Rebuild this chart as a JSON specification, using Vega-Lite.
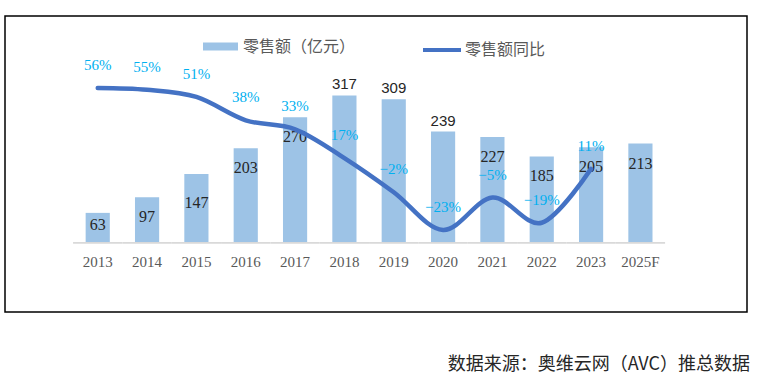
{
  "$schema": "https://vega.github.io/schema/vega-lite/v6.json",
  "width": 742,
  "height": 296,
  "padding": {"left": 5, "top": 16, "right": 12, "bottom": 5},
  "background": "#ffffff",
  "title": {
    "text": "数据来源：奥维云网（AVC）推总数据",
    "orient": "bottom",
    "anchor": "end",
    "offset": 44,
    "dx": 3,
    "font": "Noto Sans CJK SC",
    "fontSize": 18,
    "fontWeight": "normal",
    "color": "#262626"
  },
  "config": {
    "view": {"stroke": "#000000", "strokeWidth": 1.5}
  },
  "data": {
    "values": [
      {"year": "2013", "sales": 63, "yoy": 0.56},
      {"year": "2014", "sales": 97, "yoy": 0.55},
      {"year": "2015", "sales": 147, "yoy": 0.51},
      {"year": "2016", "sales": 203, "yoy": 0.38},
      {"year": "2017", "sales": 270, "yoy": 0.33},
      {"year": "2018", "sales": 317, "yoy": 0.17},
      {"year": "2019", "sales": 309, "yoy": -0.02},
      {"year": "2020", "sales": 239, "yoy": -0.23},
      {"year": "2021", "sales": 227, "yoy": -0.05},
      {"year": "2022", "sales": 185, "yoy": -0.19},
      {"year": "2023", "sales": 205, "yoy": 0.11},
      {"year": "2025F", "sales": 213, "yoy": null}
    ]
  },
  "encoding": {
    "x": {
      "field": "year",
      "type": "nominal",
      "sort": null,
      "scale": {
        "type": "band",
        "domain": ["_a", "2013", "2014", "2015", "2016", "2017", "2018", "2019", "2020", "2021", "2022", "2023", "2025F", "_b"],
        "paddingInner": 0,
        "paddingOuter": 0.52,
        "align": 0.365
      },
      "axis": {
        "title": null,
        "offset": -60,
        "domain": false,
        "ticks": false,
        "grid": false,
        "labelAngle": 0,
        "labelPadding": 2,
        "labelExpr": "indexof(datum.label, '_') === 0 ? '' : datum.label",
        "labelFont": "Liberation Serif",
        "labelFontSize": 15,
        "labelColor": "#595959"
      }
    }
  },
  "layer": [
    {
      "layer": [
        {
          "mark": {"type": "bar", "width": {"band": 1}, "color": "#D9D9D9"},
          "encoding": {
            "y": {"datum": 0, "type": "quantitative", "scale": {"domain": [-151.5, 489], "nice": false, "zero": false}, "axis": null},
            "y2": {"datum": -4}
          }
        },
        {
          "mark": {"type": "bar", "width": {"band": 0.49}},
          "encoding": {
            "y": {"field": "sales", "type": "quantitative", "scale": {"domain": [-151.5, 489], "nice": false, "zero": false}, "axis": null},
            "fill": {
              "datum": "零售额（亿元）",
              "scale": {"range": ["#9DC3E6"]},
              "legend": {
                "title": null,
                "orient": "none",
                "legendX": 198,
                "legendY": 13,
                "padding": 0,
                "symbolType": "M-1,-0.23H1V0.23H-1Z",
                "symbolSize": 1225,
                "symbolStrokeWidth": 0,
                "labelOffset": 5,
                "labelFont": "Noto Sans CJK SC",
                "labelFontSize": 16,
                "labelColor": "#595959"
              }
            }
          }
        },
        {
          "transform": [{"filter": "indexof(['2018','2019','2020'], datum.year) >= 0"}],
          "mark": {"type": "text", "dy": -11, "font": "Liberation Sans", "fontSize": 15, "color": "#262626"},
          "encoding": {
            "y": {"field": "sales", "type": "quantitative", "scale": {"domain": [-151.5, 489], "nice": false, "zero": false}, "axis": null},
            "text": {"field": "sales", "type": "quantitative"}
          }
        },
        {
          "transform": [{"filter": "indexof(['2018','2019','2020','2013','2015'], datum.year) < 0"}],
          "mark": {"type": "text", "dy": 20, "font": "Liberation Serif", "fontSize": 16, "color": "#262626"},
          "encoding": {
            "y": {"field": "sales", "type": "quantitative", "scale": {"domain": [-151.5, 489], "nice": false, "zero": false}, "axis": null},
            "text": {"field": "sales", "type": "quantitative"}
          }
        },
        {
          "transform": [{"filter": "datum.year === '2013'"}],
          "mark": {"type": "text", "dy": 12, "font": "Liberation Serif", "fontSize": 16, "color": "#262626"},
          "encoding": {
            "y": {"field": "sales", "type": "quantitative", "scale": {"domain": [-151.5, 489], "nice": false, "zero": false}, "axis": null},
            "text": {"field": "sales", "type": "quantitative"}
          }
        },
        {
          "transform": [{"filter": "datum.year === '2015'"}],
          "mark": {"type": "text", "dy": 29, "font": "Liberation Serif", "fontSize": 16, "color": "#262626"},
          "encoding": {
            "y": {"field": "sales", "type": "quantitative", "scale": {"domain": [-151.5, 489], "nice": false, "zero": false}, "axis": null},
            "text": {"field": "sales", "type": "quantitative"}
          }
        }
      ]
    },
    {
      "transform": [{"filter": "isValid(datum.yoy)"}],
      "layer": [
        {
          "mark": {"type": "line", "interpolate": "cardinal", "strokeWidth": 4.5, "strokeCap": "round"},
          "encoding": {
            "y": {"field": "yoy", "type": "quantitative", "scale": {"domain": [-0.6867, 0.9605], "nice": false, "zero": false}, "axis": null},
            "stroke": {
              "datum": "零售额同比",
              "scale": {"range": ["#4472C4"]},
              "legend": {
                "title": null,
                "orient": "none",
                "legendX": 416,
                "legendY": 13,
                "padding": 0,
                "symbolType": "stroke",
                "symbolSize": 1444,
                "symbolStrokeWidth": 4,
                "labelOffset": 2,
                "labelFont": "Noto Sans CJK SC",
                "labelFontSize": 16,
                "labelColor": "#595959"
              }
            }
          }
        },
        {
          "mark": {"type": "text", "dy": -23, "font": "Liberation Serif", "fontSize": 15, "color": "#00B0F0"},
          "encoding": {
            "y": {"field": "yoy", "type": "quantitative", "scale": {"domain": [-0.6867, 0.9605], "nice": false, "zero": false}, "axis": null},
            "text": {"field": "yoy", "type": "quantitative", "format": ".0%"}
          }
        }
      ]
    }
  ],
  "resolve": {"scale": {"y": "independent"}}
}
